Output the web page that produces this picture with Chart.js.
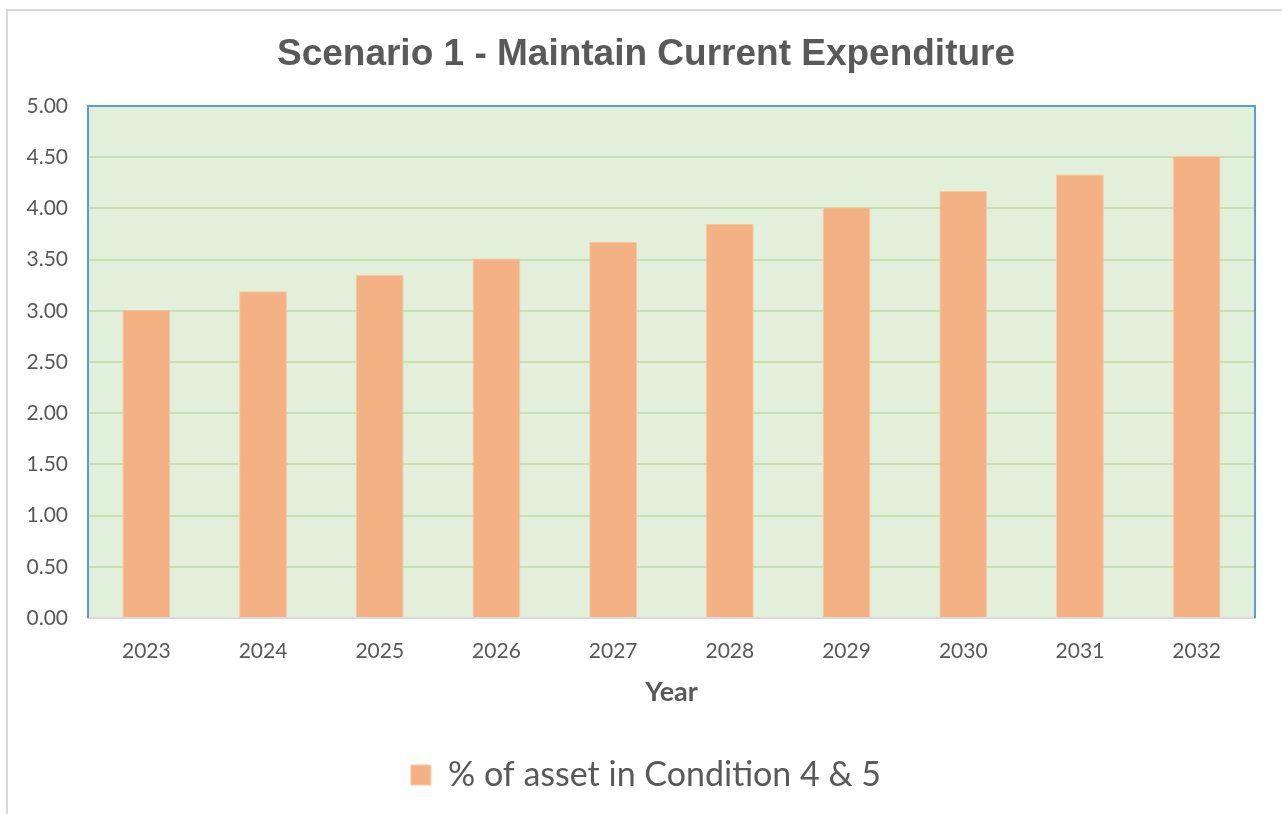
<!DOCTYPE html>
<html>
<head>
<meta charset="utf-8">
<script src="https://cdn.jsdelivr.net/npm/chart.js@4"></script>
<style>
  html, body { margin: 0; padding: 0; background: #ffffff; }
  #wrap { width: 1282px; height: 814px; position: relative; }
</style>
</head>
<body>
<div id="wrap"><canvas id="myChart" width="1282" height="814"></canvas></div>
<script>
// chart data
var years = ["2023", "2024", "2025", "2026", "2027", "2028", "2029", "2030", "2031", "2032"];
var pctCondition45 = [3.01, 3.19, 3.35, 3.51, 3.67, 3.85, 4.01, 4.17, 4.33, 4.51];
var seriesName = "% of asset in Condition 4 & 5";
var chartTitle = "Scenario 1 - Maintain Current Expenditure";
var axisTitle = "Year";

var textColor = "#595959";
var bodyFont = "Lato";

// background of plot area, outer frame and the blue box edges
var framePlugin = {
    id: "frame",
    beforeDraw: function (chart) {
        var ctx = chart.ctx;
        var a = chart.chartArea;
        ctx.save();
        ctx.strokeStyle = "#d9d9d9";
        ctx.lineWidth = 2;
        ctx.beginPath();
        ctx.moveTo(7, 814);
        ctx.lineTo(7, 10);
        ctx.lineTo(1282, 10);
        ctx.stroke();
        ctx.fillStyle = "#e2efda";
        ctx.fillRect(a.left, a.top, a.right - a.left, a.bottom - a.top);
        ctx.restore();
    },
    afterDatasetsDraw: function (chart) {
        var ctx = chart.ctx;
        var a = chart.chartArea;
        ctx.save();
        ctx.strokeStyle = "#5b9bd5";
        ctx.lineWidth = 2;
        ctx.beginPath();
        ctx.moveTo(a.left, a.bottom);
        ctx.lineTo(a.left, a.top);
        ctx.lineTo(a.right, a.top);
        ctx.lineTo(a.right, a.bottom);
        ctx.stroke();
        ctx.restore();
    }
};

var ctx = document.getElementById("myChart").getContext("2d");
var myChart = new Chart(ctx, {
    type: "bar",
    data: {
        labels: years,
        datasets: [{
            label: seriesName,
            data: pctCondition45,
            backgroundColor: "#f4b183",
            borderColor: "#f8c9a6",
            borderWidth: 1,
            barPercentage: 0.41,
            categoryPercentage: 1.0
        }]
    },
    options: {
        responsive: false,
        animation: false,
        layout: { padding: { left: 10, right: 0, top: 0, bottom: 12 } },
        plugins: {
            title: {
                display: true,
                text: chartTitle,
                color: textColor,
                font: { family: "Liberation Sans", size: 37, weight: "bold" },
                padding: { top: 33, bottom: 28.5 }
            },
            legend: {
                position: "bottom",
                labels: {
                    color: textColor,
                    font: { family: bodyFont, size: 34 },
                    boxWidth: 20,
                    boxHeight: 20,
                    padding: 10
                }
            },
            tooltip: { enabled: false }
        },
        scales: {
            x: {
                grid: { display: false, drawTicks: false },
                border: { color: "#d9d9d9", width: 2 },
                ticks: { color: textColor, font: { family: bodyFont, size: 21 }, padding: 21 },
                title: {
                    display: true,
                    text: axisTitle,
                    color: textColor,
                    font: { family: bodyFont, size: 27, weight: "bold" },
                    padding: { top: 10, bottom: 40 }
                },
                afterFit: function (scale) { scale.height = 130; }
            },
            y: {
                min: 0,
                max: 5,
                grid: { color: "#c6e0b4", lineWidth: 2, drawTicks: false },
                border: { display: false },
                ticks: {
                    stepSize: 0.5,
                    color: textColor,
                    font: { family: bodyFont, size: 21 },
                    padding: 20,
                    callback: function (v) { return Number(v).toFixed(2); }
                },
                afterFit: function (scale) { scale.width = 78; }
            },
            // empty right-hand axis, only reserves the margin right of the plot
            yRight: {
                position: "right",
                grid: { display: false, drawTicks: false },
                border: { display: false },
                ticks: { display: false },
                afterFit: function (scale) { scale.width = 27; }
            }
        }
    },
    plugins: [framePlugin]
});
</script>
</body>
</html>
